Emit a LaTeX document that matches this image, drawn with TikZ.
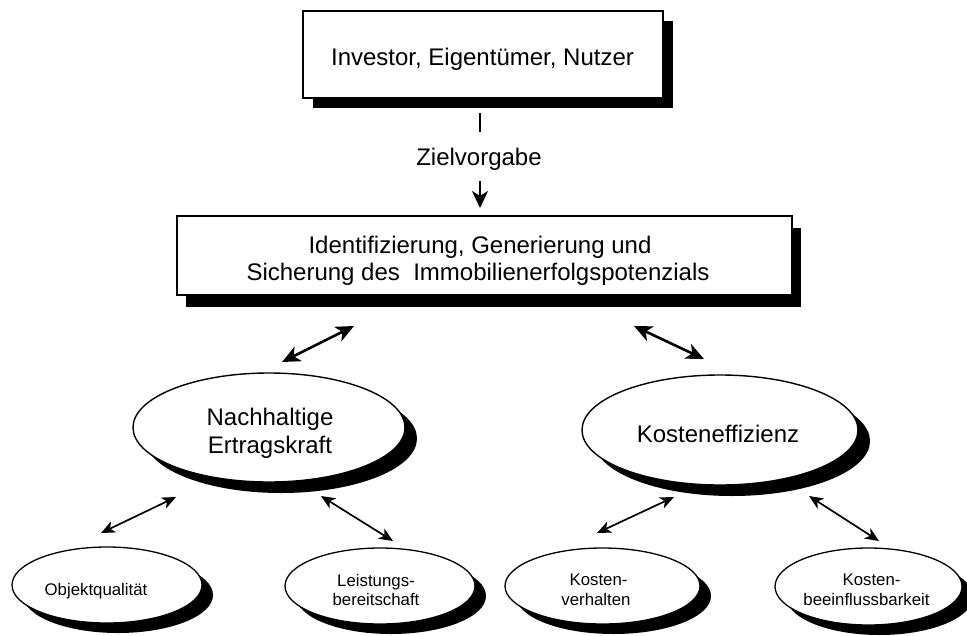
\documentclass[tikz,border=0pt]{standalone}
\usepackage{fontspec}
\setmainfont{Liberation Sans}
\usetikzlibrary{shapes.geometric,shadows,arrows.meta}
\begin{document}
\begin{tikzpicture}[x=1pt,y=-1pt,
  txtL/.style={font=\fontsize{24}{28}\selectfont, inner sep=0pt, anchor=base},
  txtS/.style={font=\fontsize{16.8}{20}\selectfont, inner sep=0pt, anchor=base},
  boxA/.style={draw, line width=1.4pt, fill=white, inner sep=0pt,
    drop shadow={shadow xshift=10pt, shadow yshift=-10pt, fill=black, opacity=1}},
  boxB/.style={draw, line width=1.4pt, fill=white, inner sep=0pt,
    drop shadow={shadow xshift=9pt, shadow yshift=-12pt, fill=black, opacity=1}},
  ellL/.style={ellipse, draw, line width=1.4pt, fill=white, inner sep=0pt,
    drop shadow={shadow xshift=12pt, shadow yshift=-11pt, fill=black, opacity=1}},
  ellS/.style={ellipse, draw, line width=1.3pt, fill=white, inner sep=0pt,
    drop shadow={shadow xshift=11pt, shadow yshift=-10pt, fill=black, opacity=1}},
  thickarr/.style={line width=2.6pt, {Stealth[length=18pt,width=16pt,inset=5pt]}-{Stealth[length=18pt,width=16pt,inset=5pt]}},
  thinarr/.style={line width=1.7pt, {Stealth[length=14pt,width=12pt,inset=4pt]}-{Stealth[length=14pt,width=12pt,inset=4pt]}},
  downarr/.style={line width=2.6pt, -{Stealth[length=17pt,width=16pt,inset=5pt]}}
]
\useasboundingbox[fill=white] (0,0) rectangle (967,635);

% top box
\node[boxA, minimum width=360pt, minimum height=87pt] (inv) at (483,54.5) {};
\node[txtL] (invt) at (482.5,65) {Investor, Eigentümer, Nutzer};

% stem and Zielvorgabe
\coordinate (s1) at (480,113);
\coordinate (s2) at (480,132);
\draw[line width=2.6pt] (s1) -- (s2);
\node[txtL] (ziel) at (479,165) {Zielvorgabe};
\coordinate (z1) at (480,181);
\coordinate (z2) at (480,208);
\draw[downarr] (z1) -- (z2);

% middle box
\node[boxB, minimum width=615pt, minimum height=79pt] (mid) at (484.5,255.5) {};
\node[txtL] (midt1) at (480,253) {Identifizierung, Generierung und};
\node[txtL] (midt2) at (478,280) {Sicherung des\ \ Immobilienerfolgspotenzials};

% upper arrows
\coordinate (ua1) at (282,362);
\coordinate (ua2) at (354,326);
\coordinate (ub1) at (634,326);
\coordinate (ub2) at (704,359);
\draw[thickarr] (ua1) -- (ua2);
\draw[thickarr] (ub1) -- (ub2);

% big ellipses
\node[ellL, minimum width=272pt, minimum height=109pt] (nach) at (269,427.5) {};
\node[txtL] (nacht1) at (270,425) {Nachhaltige};
\node[txtL] (nacht2) at (270,453) {Ertragskraft};

\node[ellL, minimum width=276pt, minimum height=110pt] (kost) at (720,430) {};
\node[txtL] (kostt) at (718,442) {Kosteneffizienz};

% lower arrows
\coordinate (la1) at (101,533);
\coordinate (la2) at (176,497);
\coordinate (lb1) at (321,496);
\coordinate (lb2) at (393,541);
\coordinate (lc1) at (597,533);
\coordinate (lc2) at (674,497);
\coordinate (ld1) at (809,496);
\coordinate (ld2) at (879,541);
\draw[thinarr] (la1) -- (la2);
\draw[thinarr] (lb1) -- (lb2);
\draw[thinarr] (lc1) -- (lc2);
\draw[thinarr] (ld1) -- (ld2);

% small ellipses
\node[ellS, minimum width=190pt, minimum height=76pt] (obj) at (107,585) {};
\node[txtS] (objt) at (96,595) {Objektqualität};

\node[ellS, minimum width=190pt, minimum height=76pt] (leist) at (380,586) {};
\node[txtS] (leistt1) at (376,586) {Leistungs-};
\node[txtS] (leistt2) at (376,605) {bereitschaft};

\node[ellS, minimum width=195pt, minimum height=76pt] (kverh) at (602.5,586) {};
\node[txtS] (kverht1) at (598.5,585) {Kosten-};
\node[txtS] (kverht2) at (596,605) {verhalten};

\node[ellS, minimum width=187pt, minimum height=77pt] (kbee) at (868.5,586.5) {};
\node[txtS] (kbeet1) at (871.5,585) {Kosten-};
\node[txtS] (kbeet2) at (866.5,605) {beeinflussbarkeit};
\end{tikzpicture}
\end{document}
